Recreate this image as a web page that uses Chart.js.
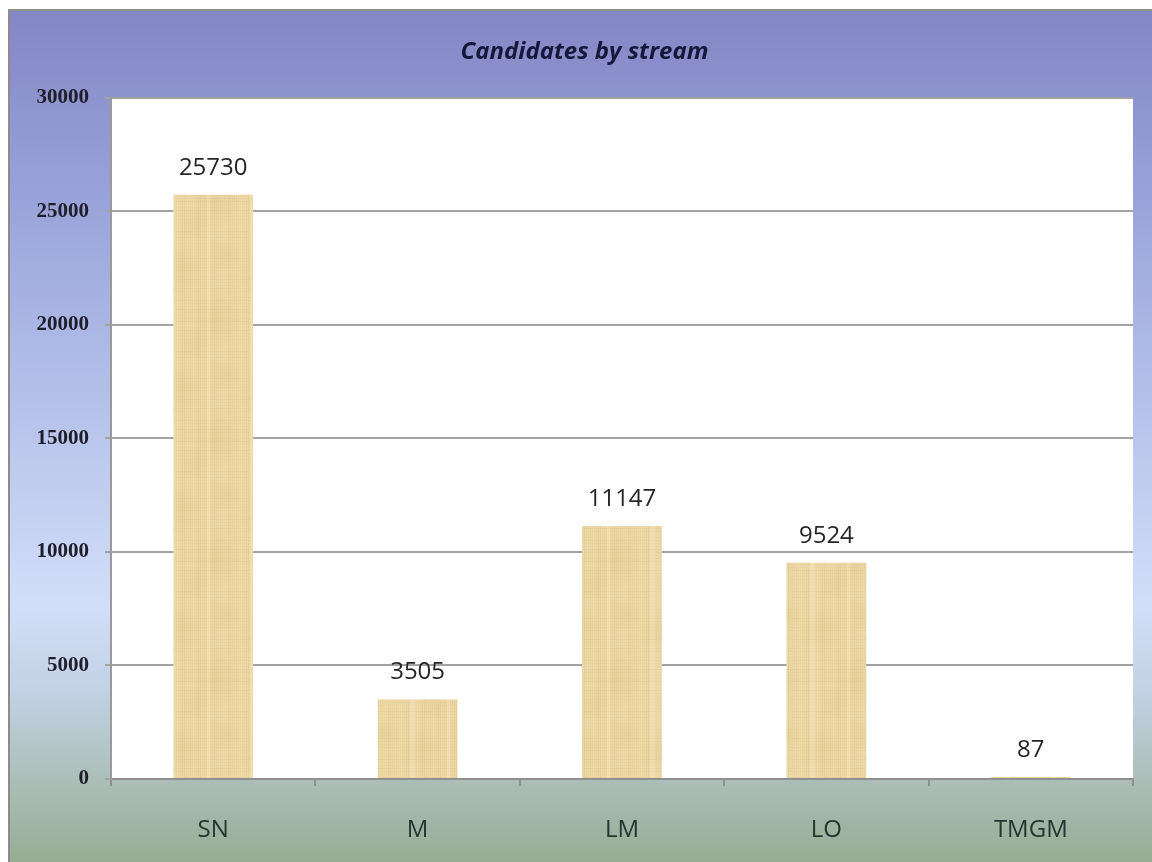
<!DOCTYPE html>
<html>
<head>
<meta charset="utf-8">
<script src="https://cdn.jsdelivr.net/npm/chart.js@4"></script>
<style>
  html, body { margin: 0; padding: 0; background: #fff; }
  #wrap { width: 1152px; height: 862px; position: relative; }
</style>
</head>
<body>
<div id="wrap"><canvas id="streamChart"></canvas></div>
<script>
// Chart data
const streams = ['SN', 'M', 'LM', 'LO', 'TMGM'];
const candidates = [25730, 3505, 11147, 9524, 87];
const yTicks = [0, 5000, 10000, 15000, 20000, 25000, 30000];

// papyrus-ish texture for the bars (fixed pattern, no randomness)
function makePapyrus() {
  const c = document.createElement('canvas');
  c.width = 80; c.height = 120;
  const g = c.getContext('2d');
  g.fillStyle = '#eedaa8';
  g.fillRect(0, 0, 80, 120);
  for (let x = 0; x < 80; x += 2) {
    const a = 0.04 + 0.09 * Math.abs(Math.sin(x * 1.37) * Math.cos(x * 0.41));
    g.fillStyle = `rgba(185,145,75,${a.toFixed(3)})`;
    g.fillRect(x, 0, 1, 120);
  }
  for (let y = 0; y < 120; y += 3) {
    const a = 0.03 + 0.08 * Math.abs(Math.cos(y * 0.73) * Math.sin(y * 0.29));
    g.fillStyle = `rgba(175,135,65,${a.toFixed(3)})`;
    g.fillRect(0, y, 80, 1);
  }
  // a few soft blotches
  [[20, 30, 26], [55, 80, 30], [35, 105, 18], [65, 15, 16]].forEach(([x, y, r]) => {
    const rg = g.createRadialGradient(x, y, 0, x, y, r);
    rg.addColorStop(0, 'rgba(200,160,90,0.10)');
    rg.addColorStop(1, 'rgba(200,160,90,0)');
    g.fillStyle = rg;
    g.fillRect(x - r, y - r, 2 * r, 2 * r);
  });
  g.fillStyle = 'rgba(255,245,215,0.25)';
  g.fillRect(10, 0, 5, 120);
  g.fillRect(47, 0, 3, 120);
  return g.createPattern(c, 'repeat');
}

// slide-style background + white plot area
const backdrop = {
  id: 'backdrop',
  beforeDraw(chart) {
    const { ctx, width, height, chartArea } = chart;
    ctx.save();
    ctx.fillStyle = '#ffffff';
    ctx.fillRect(0, 0, width, height);
    const grd = ctx.createLinearGradient(0, 9, 0, height);
    grd.addColorStop(0, '#8386c4');
    grd.addColorStop(0.3, '#a2ade0');
    grd.addColorStop(0.7, '#d2def8');
    grd.addColorStop(0.8, '#c2d1e4');
    grd.addColorStop(0.9, '#adbfb9');
    grd.addColorStop(1, '#97ac93');
    ctx.fillStyle = grd;
    ctx.fillRect(8, 9, width - 8, height - 9);
    ctx.strokeStyle = '#8c8c8c';
    ctx.lineWidth = 2;
    ctx.beginPath();
    ctx.moveTo(9, height);
    ctx.lineTo(9, 10);
    ctx.lineTo(width, 10);
    ctx.stroke();
    ctx.fillStyle = '#ffffff';
    ctx.fillRect(chartArea.left, chartArea.top, chartArea.right - chartArea.left, chartArea.bottom - chartArea.top);
    ctx.restore();
  }
};

// value labels above bars
const valueLabels = {
  id: 'valueLabels',
  afterDatasetsDraw(chart) {
    const { ctx } = chart;
    const meta = chart.getDatasetMeta(0);
    ctx.save();
    ctx.font = '24px "Open Sans"';
    ctx.fillStyle = '#262626';
    ctx.textAlign = 'center';
    ctx.textBaseline = 'bottom';
    meta.data.forEach((bar, i) => {
      ctx.fillText(String(candidates[i]), bar.x, bar.y - 15);
    });
    ctx.restore();
  }
};

const canvas = document.getElementById('streamChart');
const chart = new Chart(canvas, {
  type: 'bar',
  data: {
    labels: streams,
    datasets: [{
      data: candidates,
      backgroundColor: makePapyrus(),
      borderWidth: 0,
      categoryPercentage: 1,
      barPercentage: 0.39
    }]
  },
  options: {
    responsive: true,
    maintainAspectRatio: false,
    animation: false,
    layout: { padding: { left: 36, right: 19, top: 9, bottom: 0 } },
    plugins: {
      legend: { display: false },
      tooltip: { enabled: false },
      title: {
        display: true,
        text: 'Candidates by stream',
        color: '#15183a',
        font: { family: '"Open Sans"', size: 24, style: 'italic', weight: 'bold', lineHeight: 1.2 },
        padding: { top: 29, bottom: 31 }
      }
    },
    scales: {
      x: {
        grid: {
          offset: true,
          drawOnChartArea: false,
          drawTicks: true,
          tickLength: 7,
          color: '#8f8f8f',
          lineWidth: 2
        },
        border: { color: '#8f8f8f', width: 2 },
        ticks: {
          color: '#263530',
          font: { family: '"Open Sans"', size: 24 },
          padding: 30
        },
        afterFit(scale) { scale.height = 83; }
      },
      y: {
        min: 0,
        max: 30000,
        afterBuildTicks(scale) { scale.ticks = yTicks.map(v => ({ value: v })); },
        grid: {
          color: '#a3a3a3',
          lineWidth: 2,
          tickLength: 6
        },
        border: { color: '#9a9a9a', width: 2 },
        ticks: {
          color: '#1e1e2a',
          font: { family: '"Liberation Serif"', size: 21, weight: 'bold' },
          padding: 16,
          callback: v => String(v)
        },
        afterFit(scale) { scale.width = 75; }
      }
    }
  },
  plugins: [backdrop, valueLabels]
});
</script>
</body>
</html>
